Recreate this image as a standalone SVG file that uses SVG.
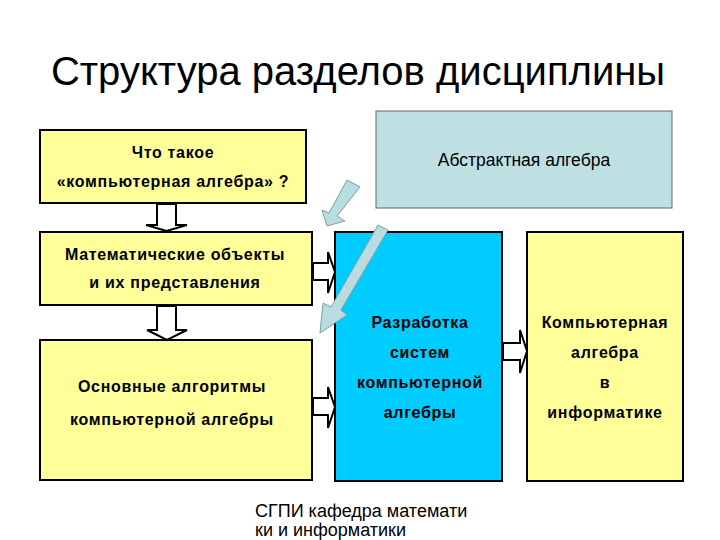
<svg xmlns="http://www.w3.org/2000/svg" width="720" height="540" viewBox="0 0 720 540">
<defs>
<style>
.box{stroke:#000;stroke-width:2}
.y{fill:#ffff99}
.b{fill:#00ccff}
.a{fill:#bfe0e3;stroke:#666;stroke-width:1}
.t{font-family:"Liberation Sans",Arial,sans-serif;font-weight:bold;font-size:16px;fill:#000;text-anchor:middle;letter-spacing:0.7px}
.n{font-family:"Liberation Sans",Arial,sans-serif;font-size:18px;fill:#000}
.blk{fill:#fff;stroke:#000;stroke-width:2;stroke-linejoin:miter}
.diag{fill:#b9dce0;stroke:#7f9ea3;stroke-width:1}
</style>
</defs>
<rect width="720" height="540" fill="#fff"/>
<text x="358" y="85" class="n" style="font-size:40px" text-anchor="middle">Структура разделов дисциплины</text>

<g id="abstract">
<rect x="376" y="111" width="296" height="97" class="a"/>
<text x="524" y="166" class="n" text-anchor="middle" style="font-size:17.5px">Абстрактная алгебра</text>
</g>

<g id="what">
<rect x="40" y="130" width="266" height="73" class="box y"/>
<text x="173" y="158" class="t">Что такое</text>
<text x="173" y="187" class="t">«компьютерная алгебра» ?</text>
</g>

<g id="objects">
<rect x="40" y="232" width="272" height="73" class="box y"/>
<text x="175" y="260" class="t">Математические объекты</text>
<text x="175" y="288" class="t">и их представления</text>
</g>

<g id="algorithms">
<rect x="40" y="340" width="272" height="140" class="box y"/>
<text x="172" y="392" class="t">Основные алгоритмы</text>
<text x="172" y="425" class="t">компьютерной алгебры</text>
</g>

<g id="develop">
<rect x="335" y="232" width="167" height="249" class="box b"/>
<text x="420" y="328" class="t">Разработка</text>
<text x="420" y="358" class="t">систем</text>
<text x="420" y="388" class="t">компьютерной</text>
<text x="420" y="418" class="t">алгебры</text>
</g>

<g id="informatics">
<rect x="527" y="232" width="156" height="249" class="box y"/>
<text x="605" y="328" class="t">Компьютерная</text>
<text x="605" y="358" class="t">алгебра</text>
<text x="605" y="388" class="t">в</text>
<text x="605" y="418" class="t">информатике</text>
</g>

<g id="connectors">
<polygon class="blk" points="157,204 157,225 146,225 166.5,231 187,225 176,225 176,204"/>
<polygon class="blk" points="157,306 157,330 147,330 167,340 187,330 176,330 176,306"/>
<polygon class="blk" points="313,263 328,263 328,252 335,272 328,293 328,280 313,280"/>
<polygon class="blk" points="313,398 328,398 328,387 335,407 328,428 328,415 313,415"/>
<polygon class="blk" points="503,343 520,343 520,330 527,351 520,373 520,360 503,360"/>
<polygon class="diag" points="347,180 360,187 337,216 345,221 327,226 322,210 329,213"/>
<polygon class="diag" points="378,225 388,230 341,310 347,315 320,333 323,303 331,307"/>
</g>

<text x="255" y="517" class="n">СГПИ кафедра математи</text>
<text x="255" y="536" class="n">ки и информатики</text>
</svg>
